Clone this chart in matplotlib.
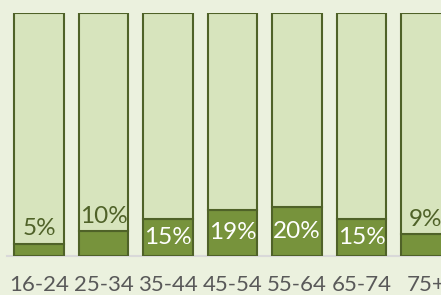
import matplotlib.pyplot as plt

plt.rcParams['font.family'] = ['Lato', 'DejaVu Sans']

# data
age_groups = ['16-24', '25-34', '35-44', '45-54', '55-64', '65-74', '75+']
shares = [5, 10, 15, 19, 20, 15, 9]

BG = '#EBF1DE'
LIGHT = '#D7E4BD'
DARK = '#77933C'
EDGE = '#4F6228'

fig = plt.figure(figsize=(4.41, 2.95), dpi=100, facecolor=BG)
ax = fig.add_axes([7 / 441, 39.3 / 295, 434 / 441, 242.7 / 295])
ax.set_facecolor(BG)

x = list(range(len(age_groups)))
width = 0.775
rest = [100 - v for v in shares]

ax.bar(x, shares, width, color=DARK, edgecolor=EDGE, linewidth=1.5, zorder=3)
ax.bar(x, rest, width, bottom=shares, color=LIGHT, edgecolor=EDGE,
       linewidth=1.5, zorder=3)

for xi, v in zip(x, shares):
    if v < 12:
        ax.annotate(f'{v}%', (xi, v), xytext=(0, 3), textcoords='offset points',
                    ha='center', va='bottom', fontsize=17.5, color=EDGE, zorder=4)
    else:
        ax.text(xi, v / 2, f'{v}%', ha='center', va='center', fontsize=17.5,
                color='white', zorder=4)

ax.set_xlim((7 - 39) / 64.5, (441 - 39) / 64.5)
ax.set_ylim(0, 100)
ax.set_xticks(x)
ax.set_xticklabels(age_groups)
ax.tick_params(axis='x', length=0, pad=14, labelsize=16, labelcolor='#595959')
ax.set_yticks([])
for side in ['left', 'right', 'top']:
    ax.spines[side].set_visible(False)
ax.spines['bottom'].set_color('#D9D9D9')
ax.spines['bottom'].set_linewidth(1.5)
ax.spines['bottom'].set_zorder(2)

fig.savefig('out.png', dpi=100, facecolor=BG)
